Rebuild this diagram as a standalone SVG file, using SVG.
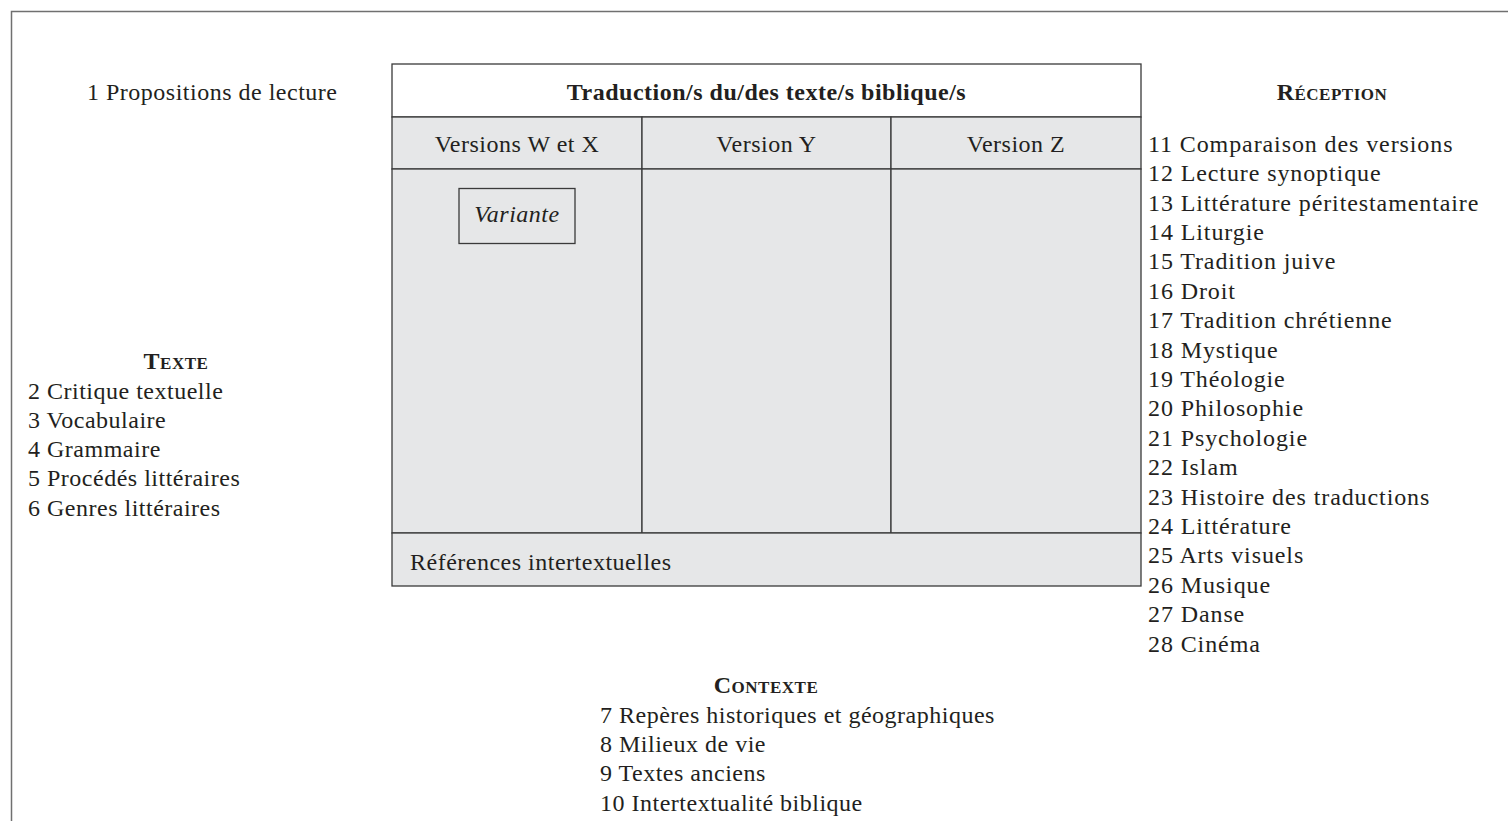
<svg xmlns="http://www.w3.org/2000/svg" width="1508" height="821" viewBox="0 0 1508 821">
<style>
text{font-family:"Liberation Serif","Times New Roman",serif;font-size:24px;fill:#231f20;letter-spacing:0.5px}
.b{font-weight:bold}
.sc{font-weight:bold;font-variant:small-caps}
.i{font-style:italic}
.m{text-anchor:middle}
.r{letter-spacing:0.9px}
.cell{fill:#e6e7e8;stroke:#3a3a3a;stroke-width:1.3}
.hdr{fill:#ffffff;stroke:#3a3a3a;stroke-width:1.3}
.frame{fill:none;stroke:#707070;stroke-width:1.5}
</style>
<g id="frame"><path class="frame" d="M1508 11.5 H11.5 V821"/></g>
<g id="propositions"><text x="87" y="100">1 Propositions de lecture</text></g>
<g id="table">
<rect class="hdr" x="392" y="64" width="749" height="53"/>
<text class="b m" x="766.5" y="99.5">Traduction/s du/des texte/s biblique/s</text>
<rect class="cell" x="392" y="117" width="250" height="52"/>
<rect class="cell" x="642" y="117" width="249" height="52"/>
<rect class="cell" x="891" y="117" width="250" height="52"/>
<text class="m" x="517" y="152">Versions W et X</text>
<text class="m" x="766.5" y="152">Version Y</text>
<text class="m" x="1016" y="152">Version Z</text>
<rect class="cell" x="392" y="169" width="250" height="364"/>
<rect class="cell" x="642" y="169" width="249" height="364"/>
<rect class="cell" x="891" y="169" width="250" height="364"/>
<rect class="cell" x="392" y="533" width="749" height="53"/>
<text x="410" y="570">Références intertextuelles</text>
</g>
<g id="variante">
<rect class="cell" x="459" y="188.5" width="116" height="55"/>
<text class="i m" x="517" y="222">Variante</text>
</g>
<g id="reception">
<text class="sc m" x="1332" y="99.5">Réception</text>
<text class="r" x="1148" y="151.7">11 Comparaison des versions</text>
<text class="r" x="1148" y="181.1">12 Lecture synoptique</text>
<text class="r" x="1148" y="210.5">13 Littérature péritestamentaire</text>
<text class="r" x="1148" y="239.9">14 Liturgie</text>
<text class="r" x="1148" y="269.3">15 Tradition juive</text>
<text class="r" x="1148" y="298.7">16 Droit</text>
<text class="r" x="1148" y="328.1">17 Tradition chrétienne</text>
<text class="r" x="1148" y="357.5">18 Mystique</text>
<text class="r" x="1148" y="386.9">19 Théologie</text>
<text class="r" x="1148" y="416.3">20 Philosophie</text>
<text class="r" x="1148" y="445.7">21 Psychologie</text>
<text class="r" x="1148" y="475.1">22 Islam</text>
<text class="r" x="1148" y="504.5">23 Histoire des traductions</text>
<text class="r" x="1148" y="533.9">24 Littérature</text>
<text class="r" x="1148" y="563.3">25 Arts visuels</text>
<text class="r" x="1148" y="592.7">26 Musique</text>
<text class="r" x="1148" y="622.1">27 Danse</text>
<text class="r" x="1148" y="651.5">28 Cinéma</text>
</g>
<g id="texte">
<text class="sc m" x="176" y="369">Texte</text>
<text x="28" y="398.5">2 Critique textuelle</text>
<text x="28" y="427.8">3 Vocabulaire</text>
<text x="28" y="457.1">4 Grammaire</text>
<text x="28" y="486.4">5 Procédés littéraires</text>
<text x="28" y="515.7">6 Genres littéraires</text>
</g>
<g id="contexte">
<text class="sc m" x="766" y="692.5">Contexte</text>
<text x="600" y="722.5">7 Repères historiques et géographiques</text>
<text x="600" y="751.9">8 Milieux de vie</text>
<text x="600" y="781.3">9 Textes anciens</text>
<text x="600" y="810.7">10 Intertextualité biblique</text>
</g>
<g id="connectors"></g>
</svg>
